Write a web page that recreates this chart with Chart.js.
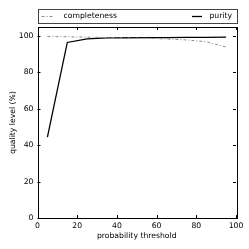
<!DOCTYPE html>
<html>
<head>
<meta charset="utf-8">
<script src="https://cdn.jsdelivr.net/npm/chart.js@4/dist/chart.umd.min.js"></script>
<style>
  html, body { margin: 0; padding: 0; background: #fff; }
  #wrap { width: 249px; height: 249px; position: relative; }
</style>
</head>
<body>
<div id="wrap"><canvas id="qualityChart"></canvas></div>
<script>
'use strict';
// data
let thresholds = [5, 15, 25, 35, 45, 55, 65, 75, 85, 95];
let completeness = [99.8, 99.6, 99.4, 99.2, 99.0, 98.8, 98.4, 97.9, 96.9, 94.0];
let purity = [44.5, 96.5, 98.5, 99.0, 99.1, 99.2, 99.2, 99.3, 99.3, 99.4];
let xTicks = [0, 20, 40, 60, 80, 100];
let yTicks = [0, 20, 40, 60, 80, 100];

let fontFamily = '"DejaVu Sans", sans-serif';
let fontSize = 7.7;

function toPoints(ys){
  let pts = [];
  for(let i = 0; i < thresholds.length; i++){
    pts.push({x: thresholds[i], y: ys[i]});
  }
  return pts;
}

// matplotlib-like frame: full box, inward ticks, legend box on top
let framePlugin = {
  id: 'frame',
  afterDraw(chart){
    let ctx = chart.ctx;
    let a = chart.chartArea;
    let xs = chart.scales.x;
    let ys = chart.scales.y;
    ctx.save();
    ctx.strokeStyle = '#000';
    ctx.lineWidth = 1;
    ctx.strokeRect(Math.round(a.left) + 0.5, Math.round(a.top) + 0.5,
      Math.round(a.right - a.left), Math.round(a.bottom - a.top));
    ctx.beginPath();
    xTicks.forEach(function(v){
      let px = Math.round(xs.getPixelForValue(v)) + 0.5;
      ctx.moveTo(px, a.bottom); ctx.lineTo(px, a.bottom - 3);
      ctx.moveTo(px, a.top); ctx.lineTo(px, a.top + 3);
    });
    yTicks.forEach(function(v){
      let py = Math.round(ys.getPixelForValue(v)) + 0.5;
      ctx.moveTo(a.left, py); ctx.lineTo(a.left + 3, py);
      ctx.moveTo(a.right, py); ctx.lineTo(a.right - 3, py);
    });
    ctx.stroke();

    // legend box
    let top = 9, h = 14;
    let mid = top + h / 2;
    ctx.strokeStyle = '#444';
    ctx.strokeRect(Math.round(a.left) + 0.5, top + 0.5, Math.round(a.right - a.left), h);
    ctx.font = fontSize + 'px ' + fontFamily;
    ctx.fillStyle = '#000';
    ctx.textBaseline = 'middle';

    let d0 = chart.data.datasets[0];
    ctx.strokeStyle = d0.borderColor;
    ctx.setLineDash(d0.borderDash);
    ctx.lineWidth = d0.borderWidth;
    ctx.beginPath();
    ctx.moveTo(a.left + 4, mid + 0.5); ctx.lineTo(a.left + 15, mid + 0.5);
    ctx.stroke();
    ctx.textAlign = 'left';
    ctx.fillText(d0.label, a.left + 26, mid);

    let d1 = chart.data.datasets[1];
    ctx.strokeStyle = d1.borderColor;
    ctx.setLineDash([]);
    ctx.lineWidth = d1.borderWidth;
    ctx.beginPath();
    ctx.moveTo(a.right - 44, mid + 0.5); ctx.lineTo(a.right - 34, mid + 0.5);
    ctx.stroke();
    ctx.textAlign = 'right';
    ctx.fillText(d1.label, a.right - 4, mid);
    ctx.restore();
  }
};

let qualityChart = new Chart(document.getElementById('qualityChart').getContext('2d'), {
  type: 'line',
  data: {
    datasets: [{
      label: 'completeness',
      data: toPoints(completeness),
      borderColor: '#8c8c8c',
      borderWidth: 1,
      borderDash: [3, 2, 1, 2],
      pointRadius: 0,
      tension: 0
    },{
      label: 'purity',
      data: toPoints(purity),
      borderColor: '#000',
      borderWidth: 1.3,
      pointRadius: 0,
      tension: 0
    }]
  },
  options: {
    responsive: true,
    maintainAspectRatio: false,
    animation: false,
    layout: { padding: { top: 27, right: 13, left: 0, bottom: 0 } },
    plugins: { legend: { display: false }, tooltip: { enabled: false } },
    scales: {
      x: {
        type: 'linear',
        min: 0, max: 100,
        afterFit: function(scale){ scale.height = 31; },
        afterBuildTicks: function(scale){ scale.ticks = xTicks.map(function(v){ return {value: v}; }); },
        grid: { display: false, drawTicks: false },
        border: { display: false },
        ticks: { padding: 3, color: '#000', maxRotation: 0, font: { family: fontFamily, size: fontSize } },
        title: { display: true, text: 'probability threshold', color: '#000', padding: { top: 0, bottom: 8 },
          font: { family: fontFamily, size: fontSize } }
      },
      y: {
        type: 'linear',
        min: 0, max: 105,
        afterFit: function(scale){ scale.width = 37.5; },
        afterBuildTicks: function(scale){ scale.ticks = yTicks.map(function(v){ return {value: v}; }); },
        grid: { display: false, drawTicks: false },
        border: { display: false },
        ticks: { padding: 4, color: '#000', font: { family: fontFamily, size: fontSize } },
        title: { display: true, text: 'quality level (%)', color: '#000', padding: { top: 8, bottom: 0 },
          font: { family: fontFamily, size: fontSize } }
      }
    }
  },
  plugins: [framePlugin]
});
</script>
</body>
</html>
